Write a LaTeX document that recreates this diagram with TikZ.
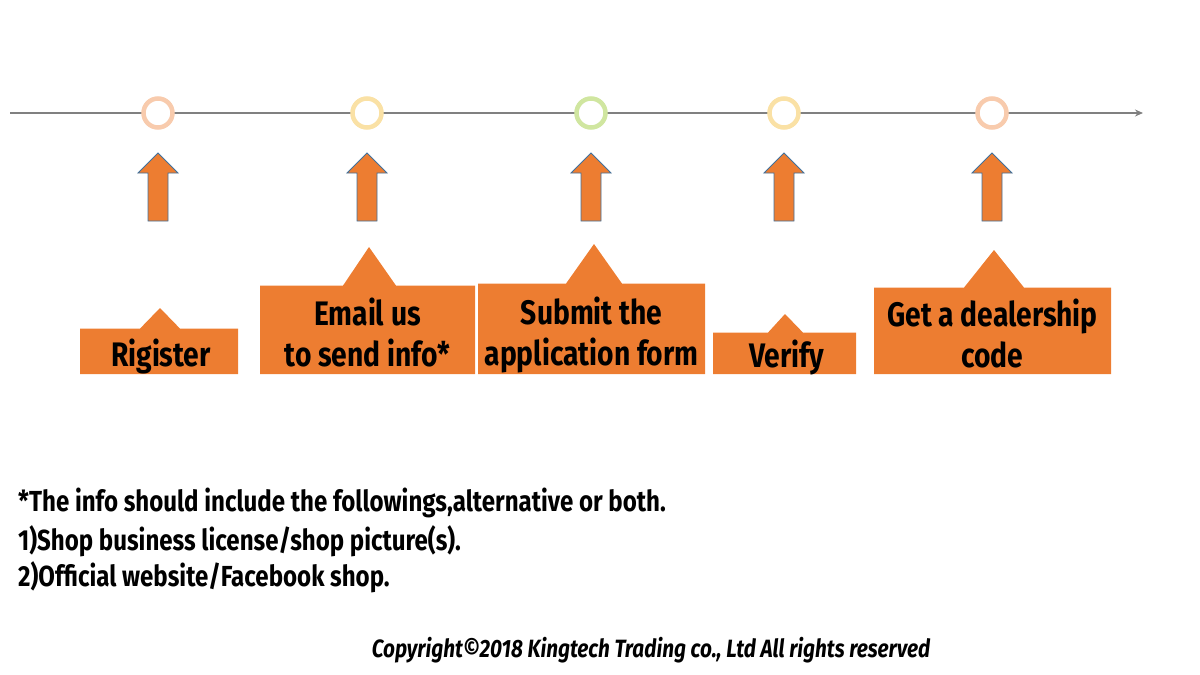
\documentclass[tikz,border=0pt]{standalone}
\usepackage{fontspec}
\setmainfont[FakeStretch=0.83]{Fira Sans}
\usetikzlibrary{arrows.meta,positioning}
\definecolor{steporange}{RGB}{237,125,49}
\definecolor{arrowedge}{RGB}{65,113,156}
\definecolor{ringpeach}{RGB}{248,203,173}
\definecolor{ringsand}{RGB}{250,225,165}
\definecolor{ringlime}{RGB}{208,230,160}
\definecolor{linegray}{RGB}{128,128,128}

\begin{document}
\begin{tikzpicture}[x=1pt, y=-1pt,
    ring/.style={circle, draw=#1, line width=4.5, fill=white, minimum size=29, inner sep=0},
    steptext/.style={inner sep=0, align=center,
        font=\fontsize{34}{41}\selectfont\bfseries},
    notetext/.style={anchor=west, inner sep=0, font=\fontsize{29}{35}\selectfont\bfseries}]
\useasboundingbox (0,0) rectangle (1200,675);
\def\axisy{113}
\def\boxbot{374}

% Timeline
\coordinate (tstart) at (10,\axisy);
\coordinate (tend) at (1143,\axisy);
\draw[linegray, line width=1.6, -{Stealth[length=8, width=7]}] (tstart) -- (tend);

\node[ring=ringpeach] (c1) at (158,\axisy) {};
\node[ring=ringsand]  (c2) at (367,\axisy) {};
\node[ring=ringlime]  (c3) at (591,\axisy) {};
\node[ring=ringsand]  (c4) at (784,\axisy) {};
\node[ring=ringpeach] (c5) at (992,\axisy) {};

% Up arrows
\foreach \x in {158,367,591,784,992} {
    \filldraw[fill=steporange, draw=arrowedge, line width=0.8]
        (\x,153) -- (\x+20,173) -- (\x+10,173) -- (\x+10,221)
        -- (\x-10,221) -- (\x-10,173) -- (\x-20,173) -- cycle;
}

% Step callouts
\fill[steporange] (80,\boxbot) rectangle (238,328.5)
    (140,328.6) -- (160,308) -- (180,328.6) -- cycle;
\node[steptext] (reg) at (161,356) {Rigister};

\fill[steporange] (260,\boxbot) rectangle (475,285.5)
    (343,285.6) -- (369,247) -- (396,285.6) -- cycle;
\node[steptext] (mail) at (367.5,332.5) {Email us\\to send info*};

\fill[steporange] (478,\boxbot) rectangle (705,283.5)
    (566,283.6) -- (594,244) -- (622,283.6) -- cycle;
\node[steptext] (form) at (591.5,335) {Submit the\\application form};

\fill[steporange] (713,\boxbot) rectangle (856,332.5)
    (768,332.6) -- (785,314) -- (803,332.6) -- cycle;
\node[steptext] (verify) at (787,357) {Verify};

\fill[steporange] (874,\boxbot) rectangle (1111,287.5)
    (964,287.6) -- (994,250) -- (1024,287.6) -- cycle;
\node[steptext] (code) at (992.5,333) {Get a dealership\\code};

% Notes
\node[notetext] (note1) at (18,503) {*The info should include the followings,alternative or both.};
\node[notetext] (note2) at (18,541) {1)Shop business license/shop picture(s).};
\node[notetext] (note3) at (18,577) {2)Official website/Facebook shop.};

\node[inner sep=0, font=\fontsize{25}{28}\selectfont\bfseries\itshape] (copy) at (651,650)
    {Copyright©2018 Kingtech Trading co., Ltd All rights reserved};
\end{tikzpicture}
\end{document}
